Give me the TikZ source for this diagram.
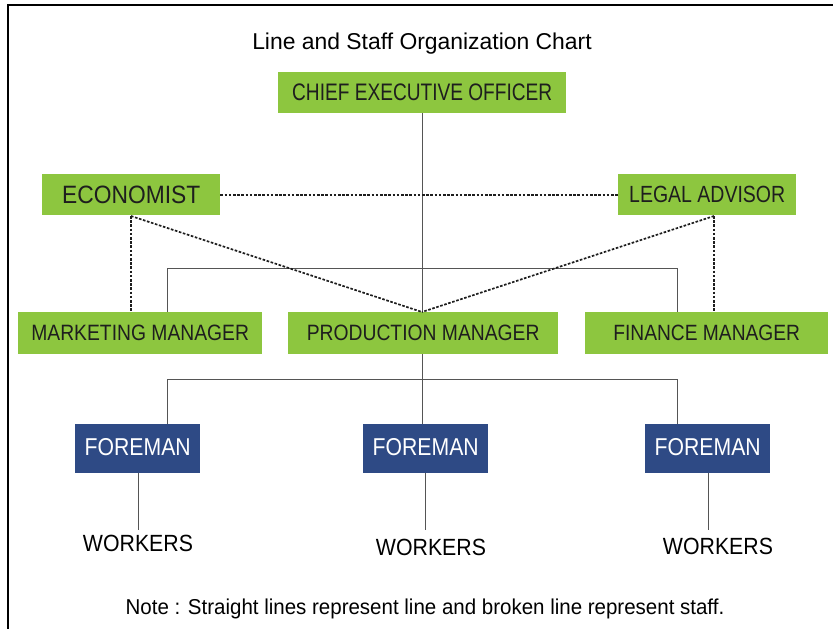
\documentclass[tikz,border=0pt]{standalone}
\usepackage{fontspec}
\setmainfont{Liberation Sans}
\usepackage{graphicx}
\definecolor{boxgreen}{HTML}{8DC63F}
\definecolor{boxnavy}{HTML}{2E4A85}
\definecolor{txtdark}{HTML}{1E1E1E}
\definecolor{linegray}{HTML}{555555}
\newcommand{\Tx}[3]{{\fontsize{#1bp}{#1bp}\selectfont\scalebox{1}[#2]{#3}}}
\begin{document}
\begin{tikzpicture}[x=1bp,y=-1bp,
  gbox/.style={fill=boxgreen,text=txtdark,inner sep=0pt,anchor=north west},
  nbox/.style={fill=boxnavy,text=white,inner sep=0pt,anchor=north west},
  plain/.style={text=black,inner sep=0pt},
  lineconn/.style={draw=linegray,line width=0.9bp},
  staffconn/.style={draw=txtdark,line width=1.7bp,dash pattern=on 2.6bp off 1.6bp},
  frame/.style={draw=black,line width=1.8bp}]
\useasboundingbox (0,0) rectangle (833,629);
\draw[frame] (8,629) -- (8,5) -- (833,5);
% title
\node[plain] (title) at (422,44) {\Tx{22.9}{1.0}{Line and Staff Organization Chart}};
% green boxes
\node[gbox,minimum width=288bp,minimum height=41bp] (ceo) at (278,72) {};
\node[plain,text=txtdark] at (ceo.center) {\Tx{19.1}{1.25}{CHIEF EXECUTIVE OFFICER}};
\node[gbox,minimum width=178bp,minimum height=41bp] (eco) at (42,174) {};
\node[plain,text=txtdark] at (eco.center) {\Tx{22.8}{1.1}{ECONOMIST}};
\node[gbox,minimum width=178bp,minimum height=41bp] (leg) at (618,174) {};
\node[plain,text=txtdark] at (leg.center) {\Tx{19.5}{1.2}{LEGAL ADVISOR}};
\node[gbox,minimum width=244bp,minimum height=42bp] (mm) at (18,312) {};
\node[plain,text=txtdark] at (mm.center) {\Tx{19.3}{1.15}{MARKETING MANAGER}};
\node[gbox,minimum width=270bp,minimum height=42bp] (pm) at (288,312) {};
\node[plain,text=txtdark] at (pm.center) {\Tx{19.3}{1.15}{PRODUCTION MANAGER}};
\node[gbox,minimum width=243bp,minimum height=42bp] (fm) at (585,312) {};
\node[plain,text=txtdark] at (fm.center) {\Tx{19.2}{1.15}{FINANCE MANAGER}};
% foremen
\node[nbox,minimum width=125bp,minimum height=49bp] (f1) at (75,424) {};
\node[plain,text=white] at ([yshift=2bp]f1.center) {\Tx{21.2}{1.15}{FOREMAN}};
\node[nbox,minimum width=125bp,minimum height=49bp] (f2) at (363,424) {};
\node[plain,text=white] at ([yshift=2bp]f2.center) {\Tx{21.2}{1.15}{FOREMAN}};
\node[nbox,minimum width=125bp,minimum height=49bp] (f3) at (645,424) {};
\node[plain,text=white] at ([yshift=2bp]f3.center) {\Tx{21.2}{1.15}{FOREMAN}};
% workers
\node[plain,anchor=north] (w1) at (138,535) {\Tx{21.3}{1.1}{WORKERS}};
\node[plain,anchor=north] (w2) at (431,539) {\Tx{21.3}{1.1}{WORKERS}};
\node[plain,anchor=north] (w3) at (718,538) {\Tx{21.3}{1.1}{WORKERS}};
% note
\node[plain] (note) at (425,609) {\Tx{20.5}{1.05}{Note : Straight lines represent line and broken line represent staff.}};
% line connectors
\coordinate (j1) at (167,268);
\coordinate (j2) at (677,268);
\coordinate (k1) at (167,379);
\coordinate (k2) at (677,379);
\coordinate (wa) at (138,530);
\coordinate (wb) at (425,530);
\coordinate (wc) at (708,530);
\draw[lineconn] (ceo.south) -- (ceo.south |- pm.north);
\draw[lineconn] (j1 |- mm.north) -- (j1) -- (j2) -- (j2 |- fm.north);
\draw[lineconn] (pm.south -| ceo.south) -- (ceo.south |- f2.north);
\draw[lineconn] (k1 |- f1.north) -- (k1) -- (k2) -- (k2 |- f3.north);
\draw[lineconn] (wa |- f1.south) -- (wa);
\draw[lineconn] (wb |- f2.south) -- (wb);
\draw[lineconn] (wc |- f3.south) -- (wc);
% staff connectors
\coordinate (e1) at (131,216);
\coordinate (l1) at (714,216);
\coordinate (pmtop) at (422,312);
\draw[staffconn] (eco.east) -- (leg.west);
\draw[staffconn] (e1) -- (e1 |- mm.north);
\draw[staffconn] (e1) -- (pmtop);
\draw[staffconn] (l1) -- (l1 |- fm.north);
\draw[staffconn] (l1) -- (pmtop);
\end{tikzpicture}
\end{document}
